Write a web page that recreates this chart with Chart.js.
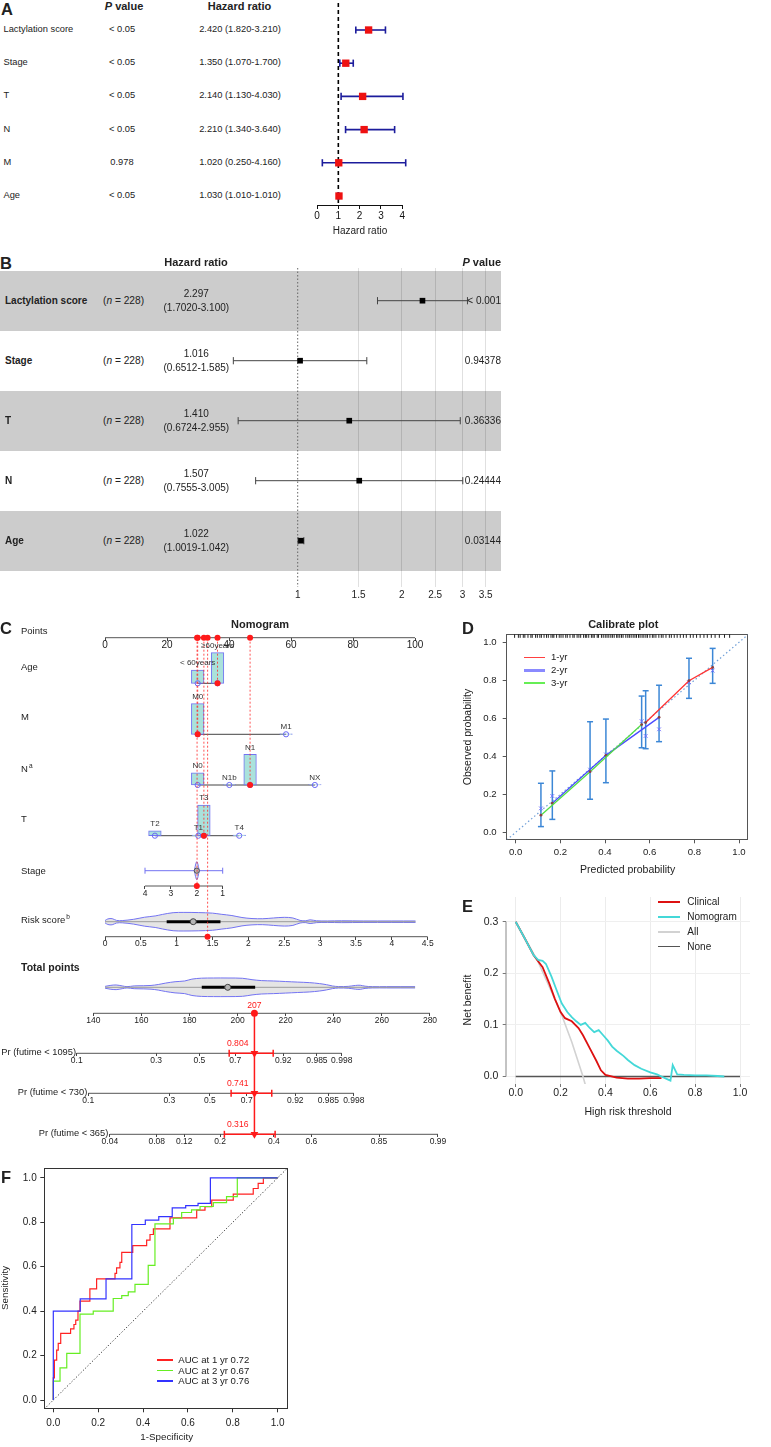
<!DOCTYPE html>
<html><head><meta charset="utf-8"><title>Figure</title>
<script src="https://cdn.jsdelivr.net/npm/chart.js@4.4.1/dist/chart.umd.min.js"></script>
<style>
html,body{margin:0;padding:0;background:#fff}
body{position:relative;width:771px;height:1447px;overflow:hidden;font-family:"Liberation Sans",Arial,sans-serif;color:#222}
.t{position:absolute;white-space:nowrap;line-height:1;z-index:2}
.sup{font-size:6.5px;position:relative;top:-4px;margin-left:1px}
canvas{position:absolute}
.band{position:absolute;background:#cccccc}
.sw{position:absolute;z-index:2}
</style></head><body>
<script>
// ================= DATA =================
// ---- Panel A : univariate forest ----
const aVars=['Lactylation score','Stage','T','N','M','Age'];
const aPval=['< 0.05','< 0.05','< 0.05','< 0.05','0.978','< 0.05'];
const aHR=[2.420,1.350,2.140,2.210,1.020,1.030];
const aLo=[1.820,1.070,1.130,1.340,0.250,1.010];
const aHi=[3.210,1.700,4.030,3.640,4.160,1.010];
const aTicks=[0,1,2,3,4];
// ---- Panel B : multivariate forest ----
const bVars=['Lactylation score','Stage','T','N','Age'];
const bN=[228,228,228,228,228];
const bHR=[2.297,1.016,1.410,1.507,1.022];
const bLo=[1.7020,0.6512,0.6724,0.7555,1.0019];
const bHi=[3.100,1.585,2.955,3.005,1.042];
const bP=['< 0.001','0.94378','0.36336','0.24444','0.03144'];
const bTicks=[1,1.5,2,2.5,3,3.5];
// ---- Panel C : nomogram ----
const ptsTicks=[0,20,40,60,80,100];
const ageCats=['< 60years','≥60years'], agePts=[29.9,36.3], ageFreq=[0.43,1];
const mCats=['M0','M1'], mPts=[29.9,58.4], mFreq=[1,0.01];
const nCats=['N0','N1b','N1','NX'], nPts=[29.9,40.1,46.8,67.7], nFreq=[0.40,0.01,1,0.01];
const tCats=['T2','T1','T3','T4'], tPts=[16.1,30.1,31.9,43.3], tFreq=[0.16,0.01,1,0.01];
const stageTicks=[4,3,2,1];
const stageDensX=[1.9,2,2.1], stageDensW=[0,1,0];
const rsTicks=[0,0.5,1,1.5,2,2.5,3,3.5,4,4.5];
const rsDensX=[0,0.04,0.1,0.16,0.24,0.4,0.55,0.7,0.8,0.95,1.1,1.3,1.5,1.62,1.77,1.91,2.05,2.2,2.35,2.5,2.62,2.72,2.8,2.86,2.95,3.1,3.3,3.6,4.0,4.33];
const rsDensW=[0.12,0.3,0.33,0.14,0.12,0.26,0.48,0.62,0.78,0.97,1,0.98,0.92,0.8,0.66,0.45,0.34,0.32,0.4,0.47,0.4,0.14,0.1,0.2,0.1,0.08,0.1,0.08,0.08,0.08];
const rsBox=[0.86,1.23,1.61];
const tpTicks=[140,160,180,200,220,240,260,280];
const tpDensX=[144.9,147,149.5,152,154,157,161,164,167,170,174,178,181,185,190,196,202,206,210,215,220,225,230,234,237,239.5,242,246,249,251,253,256,262,273.8];
const tpDensW=[0.1,0.2,0.25,0.15,0.07,0.15,0.17,0.2,0.3,0.45,0.6,0.68,0.88,0.98,1,1,0.97,0.82,0.72,0.68,0.62,0.56,0.5,0.4,0.28,0.14,0.08,0.1,0.2,0.22,0.12,0.07,0.07,0.07];
const tpBox=[185.1,195.9,207.3];
const selStage=2, selStagePts=29.7, selRisk=1.43, selRiskPts=33.1, totalPts=207;
const pr1095Lab=['0.1','0.3','0.5','0.7','0.92','0.985','0.998'], pr1095At=[133.1,166.1,184.1,199.0,219.0,233.0,243.3];
const pr730Lab=['0.1','0.3','0.5','0.7','0.92','0.985','0.998'], pr730At=[137.9,171.6,188.5,203.8,224.0,237.7,248.3];
const pr365Lab=['0.04','0.08','0.12','0.2','0.4','0.6','0.85','0.99'], pr365At=[146.9,166.4,177.8,192.7,215.1,230.7,258.8,283.3];
const prVal=[0.804,0.741,0.316], prLo=[196.5,197.3,194.5], prHi=[214.8,214.2,215.6];
// ---- Panel D : calibration ----
const calTicks=[0,0.2,0.4,0.6,0.8,1];
const cal1X=[0.582,0.776,0.882], cal1Y=[0.578,0.798,0.868], cal1Lo=[0.440,0.705,0.784], cal1Hi=[0.745,0.916,0.968];
const cal2X=[0.164,0.404,0.642], cal2Y=[0.153,0.405,0.605], cal2Lo=[0.068,0.261,0.477], cal2Hi=[0.323,0.596,0.774];
const cal3X=[0.113,0.333,0.564], cal3Y=[0.090,0.319,0.567], cal3Lo=[0.030,0.174,0.445], cal3Hi=[0.258,0.582,0.717];
const calBcX=[0.113,0.164,0.333,0.404,0.564,0.582,0.642,0.776,0.882];
const calBcY=[0.126,0.191,0.330,0.410,0.585,0.507,0.542,0.790,0.851];
const calRug=[-0.005,0.012,0.02,0.034,0.041,0.055,0.068,0.074,0.089,0.097,0.108,0.115,0.127,0.138,0.146,0.158,0.166,0.171,0.183,0.195,0.203,0.212,0.224,0.231,0.243,0.256,0.262,0.275,0.283,0.291,0.304,0.312,0.318,0.327,0.339,0.346,0.352,0.365,0.371,0.384,0.392,0.401,0.409,0.417,0.426,0.433,0.441,0.452,0.458,0.466,0.474,0.481,0.493,0.502,0.509,0.517,0.526,0.534,0.541,0.55,0.557,0.566,0.574,0.583,0.59,0.601,0.612,0.619,0.628,0.641,0.652,0.66,0.673,0.688,0.697,0.71,0.723,0.737,0.751,0.764,0.782,0.795,0.81,0.826,0.843,0.858,0.876,0.893,0.912,0.935,0.958];
// ---- Panel E : decision curve ----
const dcaXTicks=[0,0.2,0.4,0.6,0.8,1], dcaYTicks=[0,0.1,0.2,0.3];
const clinX=[0,0.04,0.08,0.12,0.15,0.175,0.2,0.22,0.25,0.28,0.3,0.33,0.36,0.38,0.4,0.45,0.5,0.55,0.6,0.65];
const clinY=[0.3,0.268,0.235,0.212,0.18,0.15,0.125,0.113,0.107,0.094,0.08,0.055,0.03,0.012,0.003,-0.002,-0.004,-0.004,-0.003,-0.003];
const nomoX=[0,0.04,0.08,0.1,0.12,0.135,0.16,0.18,0.205,0.23,0.25,0.27,0.29,0.31,0.33,0.35,0.37,0.39,0.41,0.43,0.45,0.48,0.5,0.53,0.56,0.6,0.63,0.65,0.67,0.69,0.7,0.72,0.75,0.8,0.85,0.9,0.93];
const nomoY=[0.3,0.268,0.235,0.226,0.224,0.218,0.193,0.17,0.142,0.125,0.115,0.107,0.1,0.104,0.094,0.086,0.09,0.08,0.07,0.058,0.05,0.04,0.032,0.022,0.015,0.008,0.004,0.0,-0.004,-0.008,0.022,0.004,0.003,0.002,0.002,0.001,0.0];
const allX=[0,0.1,0.2,0.25,0.3,0.35], allY=[0.3,0.222,0.125,0.067,0.0,-0.077];
const noneX=[0,1], noneY=[0,0];
const dcaNames=['Clinical','Nomogram','All','None'];
// ---- Panel F : time-dependent ROC ----
const rocTicks=[0,0.2,0.4,0.6,0.8,1];
const roc1X=[0,0.005,0.015,0.022,0.033,0.077,0.092,0.10,0.11,0.119,0.163,0.193,0.275,0.282,0.297,0.305,0.354,0.416,0.431,0.446,0.52,0.639,0.676,0.706,0.802,0.891,0.913,0.936,1.0];
const roc1Y=[0,0.10,0.18,0.225,0.255,0.30,0.32,0.34,0.36,0.40,0.445,0.50,0.545,0.57,0.595,0.62,0.665,0.695,0.72,0.745,0.77,0.82,0.855,0.87,0.90,0.927,0.952,0.975,1.0];
const roc2X=[0,0.03,0.06,0.119,0.178,0.267,0.305,0.334,0.364,0.423,0.453,0.535,0.572,0.616,0.654,0.713,0.772,0.82,1.0];
const roc2Y=[0,0.085,0.145,0.21,0.387,0.40,0.457,0.47,0.487,0.521,0.606,0.793,0.818,0.844,0.856,0.871,0.888,0.915,1.0];
const roc3X=[0,0.12,0.235,0.35,0.41,0.47,0.53,0.59,0.645,0.70,1.0];
const roc3Y=[0,0.40,0.455,0.545,0.79,0.81,0.825,0.865,0.875,0.885,1.0];
const rocLab=['AUC at 1 yr 0.72','AUC at 2 yr 0.67','AUC at 3 yr 0.76'];

// ================= HELPERS =================
Chart.defaults.font.family="'Liberation Sans', Arial, sans-serif";
Chart.defaults.color='#222';
function T(html,x,y,o={}){const d=document.createElement('div');d.className='t';d.innerHTML=html;const s=d.style;
  s.left=x+'px';s.top=y+'px';s.fontSize=(o.s||10)+'px';if(o.b)s.fontWeight='bold';if(o.c)s.color=o.c;
  const ax=o.a==='c'?'-50%':o.a==='r'?'-100%':'0';s.transform='translate('+ax+',-50%)'+(o.rot?' rotate('+o.rot+'deg)':'');
  document.body.appendChild(d);return d;}
function SW(x1,x2,y,col,w){const d=document.createElement('div');d.className='sw';d.style.left=x1+'px';d.style.width=(x2-x1)+'px';
  d.style.top=(y-w/2)+'px';d.style.height=w+'px';d.style.background=col;document.body.appendChild(d);}
function band(x,y,w,h){const d=document.createElement('div');d.className='band';Object.assign(d.style,{left:x+'px',top:y+'px',width:w+'px',height:h+'px'});document.body.appendChild(d);}
function hLin(p0,v0,p1,v1,a0,a1){const k=(v1-v0)/(p1-p0);const va=v0+(a0-p0)*k,vb=v0+(a1-p0)*k;return va<vb?{min:va,max:vb,reverse:false}:{min:vb,max:va,reverse:true};}
function vLin(p0,v0,p1,v1,top,bot){const k=(v1-v0)/(p1-p0);const vt=v0+(top-p0)*k,vb=v0+(bot-p0)*k;return vt>vb?{min:vb,max:vt,reverse:false}:{min:vt,max:vb,reverse:true};}
function axis(o){
  const c={type:o.type||'linear',axis:o.axis,position:o.pos,min:o.map.min,max:o.map.max,reverse:!!o.map.reverse,offset:false,
    display:o.display===undefined?true:o.display,
    ticks:{display:!o.noLabels,autoSkip:false,maxRotation:0,minRotation:0,font:{size:o.font||10,lineHeight:1},color:o.color||'#222',padding:o.pad||0,
      callback:(v,i)=>o.labels?o.labels[i]:(o.fmt?o.fmt(v):String(v))},
    grid:{offset:false,display:true,drawOnChartArea:!!o.gridColor,color:o.gridColor||'rgba(0,0,0,0)',drawTicks:!!o.tl,tickLength:o.tl||0,tickColor:o.tc||'#333',tickWidth:1,lineWidth:1},
    border:{display:!!o.border,color:o.border||'#000',width:1}};
  if(o.vals)c.afterBuildTicks=s=>{s.ticks=o.vals.map(v=>({value:v}));};
  return c;}
function L(data,st){return Object.assign({type:'line',data,pointRadius:0,borderWidth:1,fill:false,clip:false,tension:0},st||{});}
function P(data,st){return Object.assign({type:'line',data,showLine:false,clip:false,pointBorderWidth:0},st||{});}
function place(box,area,cfg){
  const c=document.createElement('canvas');c.width=box.w;c.height=box.h;
  Object.assign(c.style,{left:box.x+'px',top:box.y+'px',width:box.w+'px',height:box.h+'px'});
  document.body.appendChild(c);
  cfg.data.datasets.forEach((d,i)=>{if(d.order===undefined)d.order=-i;});
  const o=cfg.options=cfg.options||{};
  const m={left:area.l-box.x,top:area.t-box.y,right:box.x+box.w-area.r,bottom:box.y+box.h-area.b};
  const pad=Object.assign({},m);
  Object.values(o.scales).forEach(s=>{
    const pos=s.position;
    if(typeof pos==='string'&&s.display!==false&&s.ticks&&s.ticks.display){
      const size=m[pos];pad[pos]=0;
      s.afterFit=sc=>{if(sc.isHorizontal())sc.height=size;else sc.width=size;};
    } else s.afterFit=sc=>{if(sc.isHorizontal())sc.height=0;else sc.width=0;};
  });
  Object.assign(o,{responsive:false,animation:false,devicePixelRatio:1,events:[],layout:{autoPadding:false,padding:pad}});
  o.plugins=Object.assign({legend:{display:false},title:{display:false},tooltip:{enabled:false}},o.plugins||{});
  return new Chart(c.getContext('2d'),cfg);}
const f1=v=>v.toFixed(1);

// ================= PANEL LETTERS =================
T('A',1,9,{s:16.5,b:1});T('B',0,262.5,{s:16.5,b:1});T('C',0,628,{s:16.5,b:1});
T('D',462,628,{s:16.5,b:1});T('E',462,906,{s:16.5,b:1});T('F',1,1177,{s:16.5,b:1});

// ================= PANEL A =================
const aRowY0=30,aRowStep=33.2;
T('<i>P</i> value',124,6,{s:11,b:1,a:'c'});T('Hazard ratio',239.5,6,{s:11,b:1,a:'c'});
aVars.forEach((v,i)=>{const y=aRowY0+i*aRowStep;T(v,3.5,y,{s:9.3});T(aPval[i],122,y,{s:9.3,a:'c'});
  T(aHR[i].toFixed(3)+' ('+aLo[i].toFixed(3)+'-'+aHi[i].toFixed(3)+')',240,y,{s:9.3,a:'c'});});
T('Hazard ratio',360,231,{s:10,a:'c'});
(function(){
  const box={x:290,y:0,w:135,h:240},area={l:317,t:3,r:402.3,b:205};
  const xm=hLin(317,0,402.3,4,area.l,area.r), ym=vLin(aRowY0,0,aRowY0+aRowStep,1,area.t,area.b);
  const ds=[L([{x:1,y:ym.min},{x:1,y:ym.max}],{borderColor:'#000',borderWidth:1.6,borderDash:[4,3]})];
  aVars.forEach((v,i)=>ds.push(L([{x:aLo[i],y:i},{x:aHi[i],y:i}],{borderColor:'#1c1c9c',borderWidth:1.6,pointStyle:'line',pointRotation:90,pointRadius:3.6,pointBorderColor:'#1c1c9c',pointBorderWidth:1.6})));
  ds.push(P(aHR.map((h,i)=>({x:h,y:i})),{pointStyle:'rect',pointRadius:5.2,pointBackgroundColor:'#ee1111'}));
  place(box,area,{type:'line',data:{datasets:ds},options:{scales:{
    x:axis({axis:'x',pos:'bottom',map:xm,vals:aTicks,font:10,pad:2,tl:4,tc:'#111',border:'#111',color:'#111'}),
    y:axis({axis:'y',pos:'left',map:ym,display:false})}}});
})();

// ================= PANEL B =================
const bRowY0=300.7,bRowStep=60;
bVars.forEach((v,i)=>{if(i%2===0)band(0,bRowY0-30+i*bRowStep,501,bRowStep);});
T('Hazard ratio',196,262,{s:11,b:1,a:'c'});T('<i>P</i> value',501,262,{s:11,b:1,a:'r'});
bVars.forEach((v,i)=>{const y=bRowY0+i*bRowStep;T(v,5,y,{s:10,b:1});T('(<i>n</i> = '+bN[i]+')',103,y,{s:10.2});
  T(bHR[i].toFixed(3),196.3,y-7,{s:10,a:'c'});T('('+bLo[i].toFixed(4)+'-'+bHi[i].toFixed(3)+')',196.3,y+7,{s:10,a:'c'});
  T(bP[i],501,y,{s:10,a:'r'});});
(function(){
  const box={x:200,y:265,w:310,h:345},area={l:200,t:268,r:501,b:587};
  const k=(401.7-297.7)/Math.log(2);
  const xm={min:Math.exp((area.l-297.7)/k),max:Math.exp((area.r-297.7)/k)};
  const ym=vLin(bRowY0,0,bRowY0+bRowStep,1,area.t,area.b);
  const ds=[L([{x:1,y:ym.min},{x:1,y:ym.max}],{borderColor:'#666',borderWidth:1,borderDash:[1.5,2]})];
  bVars.forEach((v,i)=>ds.push(L([{x:bLo[i],y:i},{x:bHi[i],y:i}],{borderColor:'#444',borderWidth:1,pointStyle:'line',pointRotation:90,pointRadius:3.6,pointBorderColor:'#444',pointBorderWidth:1})));
  ds.push(P(bHR.map((h,i)=>({x:h,y:i})),{pointStyle:'rect',pointRadius:4,pointBackgroundColor:'#000'}));
  place(box,area,{type:'line',data:{datasets:ds},options:{scales:{
    x:axis({type:'logarithmic',axis:'x',pos:'bottom',map:xm,vals:bTicks,font:10,pad:3,color:'#222',
      gridColor:c=>(c.tick&&c.tick.value===1)?'rgba(0,0,0,0)':'rgba(0,0,0,0.12)'}),
    y:axis({axis:'y',pos:'left',map:ym,display:false})}}});
})();

// ================= PANEL C : NOMOGRAM =================
const NY={pts:637.7,age:683.3,m:734.3,n:785,t:835.7,stLine:870.7,stAxis:886,rsV:921.7,rsAxis:936.7,tpV:987.3,tpAxis:1013.3,p1095:1053.3,p730:1093.3,p365:1134.3};
const BAR_H=30.6,VIO_H=9.3,STG_H=9;
const BLUE='#7373f2',FILLC='#aae2db',RED='#ff1a1a',VFILL='#e5e5e5';
T('Nomogram',260,624,{s:11,b:1,a:'c'});
T('Points',21,631,{s:9.5});T('Age',21,667.3,{s:9.5});T('M',21,717.3,{s:9.5});T('N<span class="sup">a</span>',21,769,{s:9.5});
T('T',21,819.3,{s:9.5});T('Stage',21,870.7,{s:9.5});T('Risk score<span class="sup">b</span>',21,920,{s:9.5});
T('Total points',21,966.7,{s:10.5,b:1});
T('Pr (futime &lt; 1095)',76,NY.p1095,{s:9.3,a:'r'});T('Pr (futime &lt; 730)',87.3,NY.p730,{s:9.3,a:'r'});T('Pr (futime &lt; 365)',108.3,NY.p365,{s:9.3,a:'r'});
const catRows=[{cats:ageCats,pts:agePts,freq:ageFreq,y:NY.age,sel:1},{cats:mCats,pts:mPts,freq:mFreq,y:NY.m,sel:0},
  {cats:nCats,pts:nPts,freq:nFreq,y:NY.n,sel:2},{cats:tCats,pts:tPts,freq:tFreq,y:NY.t,sel:2}];
const prRows=[{val:prVal[0],y:NY.p1095},{val:prVal[1],y:NY.p730},{val:prVal[2],y:NY.p365}];
(function(){
  const box={x:0,y:600,w:460,h:560},area={l:0,t:600,r:460,b:1160};
  const on=ax=>({xAxisID:ax,yAxisID:'y'});
  const ptsMap=hLin(105,0,415,100,area.l,area.r), stgMap=hLin(145,4,222.7,1,area.l,area.r),
        rsMap=hLin(105,0,427.7,4.5,area.l,area.r), tpMap=hLin(93.3,140,430,280,area.l,area.r);
  const ds=[];
  const violin=(ax,xs,ws,cy,H,col)=>{
    ds.push(L(xs.map((v,j)=>({x:v,y:cy-ws[j]*H})),{...on(ax),borderColor:BLUE,tension:0.35,fill:'+1',backgroundColor:col}));
    ds.push(L(xs.map((v,j)=>({x:v,y:cy+ws[j]*H})),{...on(ax),borderColor:BLUE,tension:0.35}));};
  ds.push(L([{x:ptsTicks[0],y:NY.pts},{x:ptsTicks[ptsTicks.length-1],y:NY.pts}],{...on('pts'),borderColor:'#555'}));
  ds.push(L([{x:stageTicks[0],y:NY.stAxis},{x:stageTicks[stageTicks.length-1],y:NY.stAxis}],{...on('stg'),borderColor:'#555'}));
  ds.push(L([{x:rsTicks[0],y:NY.rsAxis},{x:rsTicks[rsTicks.length-1],y:NY.rsAxis}],{...on('rs'),borderColor:'#555'}));
  ds.push(L([{x:tpTicks[0],y:NY.tpAxis},{x:tpTicks[tpTicks.length-1],y:NY.tpAxis}],{...on('tp'),borderColor:'#555'}));
  [[pr1095At,NY.p1095],[pr730At,NY.p730],[pr365At,NY.p365]].forEach(([at,y])=>ds.push(L([{x:at[0],y},{x:at[at.length-1],y}],{...on('tp'),borderColor:'#555'})));
  catRows.forEach(r=>{
    ds.push(L([{x:Math.min(...r.pts),y:r.y},{x:Math.max(...r.pts),y:r.y}],{...on('pts'),borderColor:'#444'}));
    ds.push({type:'bar',...on('pts'),data:r.pts.map((p,j)=>({x:p,y:[r.y,r.y-Math.max(r.freq[j]*BAR_H,0.5)]})),barThickness:12.6,grouped:false,
      backgroundColor:FILLC,borderColor:BLUE,borderWidth:1,borderSkipped:false,clip:false});
    ds.push(P(r.pts.map(p=>({x:p,y:r.y})),{...on('pts'),pointRadius:2.6,pointBackgroundColor:'rgba(255,255,255,0)',pointBorderColor:'#6a6af5',pointBorderWidth:1}));
  });
  ds.push(L([{x:stageTicks[0],y:NY.stLine},{x:stageTicks[stageTicks.length-1],y:NY.stLine}],{...on('stg'),borderColor:BLUE,pointStyle:'line',pointRotation:90,pointRadius:3,pointBorderColor:BLUE,pointBorderWidth:1}));
  violin('stg',stageDensX,stageDensW,NY.stLine,STG_H,VFILL);
  ds.push(P([{x:selStage,y:NY.stLine}],{...on('stg'),pointRadius:2.6,pointBackgroundColor:'#b5b5b5',pointBorderColor:'#555',pointBorderWidth:1}));
  violin('rs',rsDensX,rsDensW,NY.rsV,VIO_H,VFILL);
  ds.push(L([{x:rsDensX[0],y:NY.rsV},{x:rsDensX[rsDensX.length-1],y:NY.rsV}],{...on('rs'),borderColor:'#9a9a9a'}));
  ds.push(L([{x:rsBox[0],y:NY.rsV},{x:rsBox[2],y:NY.rsV}],{...on('rs'),borderColor:'#000',borderWidth:3}));
  ds.push(P([{x:rsBox[1],y:NY.rsV}],{...on('rs'),pointRadius:3,pointBackgroundColor:'#b5b5b5',pointBorderColor:'#444',pointBorderWidth:1}));
  violin('tp',tpDensX,tpDensW,NY.tpV,VIO_H,VFILL);
  ds.push(L([{x:tpDensX[0],y:NY.tpV},{x:tpDensX[tpDensX.length-1],y:NY.tpV}],{...on('tp'),borderColor:'#9a9a9a'}));
  ds.push(L([{x:tpBox[0],y:NY.tpV},{x:tpBox[2],y:NY.tpV}],{...on('tp'),borderColor:'#000',borderWidth:3}));
  ds.push(P([{x:tpBox[1],y:NY.tpV}],{...on('tp'),pointRadius:3,pointBackgroundColor:'#b5b5b5',pointBorderColor:'#444',pointBorderWidth:1}));
  const selPts=[...catRows.map(r=>r.pts[r.sel]),selStagePts,selRiskPts];
  const selY=[...catRows.map(r=>r.y),NY.stAxis,NY.rsAxis];
  selPts.forEach((p,i)=>ds.push(L([{x:p,y:NY.pts},{x:p,y:selY[i]}],{...on('pts'),borderColor:'rgba(255,40,40,0.8)',borderDash:[2,2]})));
  const redDot={pointRadius:3,pointBackgroundColor:RED,pointBorderWidth:0};
  ds.push(P(selPts.map(p=>({x:p,y:NY.pts})),{...on('pts'),...redDot}));
  ds.push(P(catRows.map(r=>({x:r.pts[r.sel],y:r.y})),{...on('pts'),...redDot}));
  ds.push(P([{x:selStage,y:NY.stAxis}],{...on('stg'),...redDot}));
  ds.push(P([{x:selRisk,y:NY.rsAxis}],{...on('rs'),...redDot}));
  ds.push(L([{x:totalPts,y:NY.tpAxis},{x:totalPts,y:NY.p365}],{...on('tp'),borderColor:RED,borderWidth:1.5}));
  ds.push(P([{x:totalPts,y:NY.tpAxis}],{...on('tp'),...redDot,pointRadius:3.5}));
  prRows.forEach((r,i)=>{
    ds.push(L([{x:prLo[i],y:r.y},{x:prHi[i],y:r.y}],{...on('tp'),borderColor:RED,borderWidth:1.5,pointStyle:'line',pointRotation:90,pointRadius:3.5,pointBorderColor:RED,pointBorderWidth:1.5}));
    ds.push(P([{x:totalPts,y:r.y}],{...on('tp'),pointStyle:'triangle',pointRotation:180,pointRadius:4.5,pointBackgroundColor:RED}));
  });
  const nomoText={id:'nomoText',afterDatasetsDraw(ch){
    const c=ch.ctx,sx=ch.scales.pts,sy=ch.scales.y,st=ch.scales.tp;
    c.save();c.font='8px "Liberation Sans", Arial';c.textAlign='center';c.textBaseline='middle';c.fillStyle='#333';
    catRows.forEach(r=>r.cats.forEach((lab,j)=>{const top=r.y-Math.max(r.freq[j]*BAR_H,0.5);c.fillText(lab,sx.getPixelForValue(r.pts[j]),sy.getPixelForValue(top-7));}));
    c.fillStyle=RED;c.font='8.6px "Liberation Sans", Arial';
    c.fillText(String(totalPts),st.getPixelForValue(totalPts),sy.getPixelForValue(NY.tpAxis-7.5));
    c.textAlign='right';
    prRows.forEach(r=>c.fillText(r.val.toFixed(3),st.getPixelForValue(totalPts)-6,sy.getPixelForValue(r.y-10)));
    c.restore();}};
  const nx=(map,y,vals,labels,font,pad)=>axis({axis:'x',pos:{y},map,vals,labels,font,pad,tl:3,tc:'#444'});
  place(box,area,{type:'line',data:{datasets:ds},plugins:[nomoText],options:{scales:{
    y:axis({axis:'y',pos:'left',map:{min:area.t,max:area.b,reverse:true},display:false}),
    pts:nx(ptsMap,NY.pts,ptsTicks,null,10,0),
    stg:nx(stgMap,NY.stAxis,stageTicks,null,8.5,0.5),
    rs:nx(rsMap,NY.rsAxis,rsTicks,null,8.5,0),
    tp:nx(tpMap,NY.tpAxis,tpTicks,null,8.5,0),
    p1095:nx(tpMap,NY.p1095,pr1095At,pr1095Lab,8.5,0),
    p730:nx(tpMap,NY.p730,pr730At,pr730Lab,8.5,0),
    p365:nx(tpMap,NY.p365,pr365At,pr365Lab,8.5,0)}}});
})();

// ================= PANEL D : CALIBRATION =================
T('Calibrate plot',623.3,624,{s:11,b:1,a:'c'});
T('Observed probability',466.7,737,{s:10.5,a:'c',rot:-90});
T('Predicted probability',627.7,869.3,{s:10.5,a:'c'});
const calCols=['#ff3333','#4b4bff','#55dd44'];
SW(524.3,545,657.3,'#ff4040',1.2);SW(524.3,545,670,'#8a8aff',3);SW(524.3,545,682.7,'#66ee55',2);
['1-yr','2-yr','3-yr'].forEach((s,i)=>T(s,551,657.3+i*12.7,{s:9.6}));
(function(){
  const box={x:460,y:612,w:311,h:258},area={l:506.7,t:634.3,r:747.7,b:839.3};
  const xm=hLin(515.7,0,739,1,area.l,area.r), ym=vLin(832.3,0,642.3,1,area.t,area.b);
  const ds=[L([{x:-0.04,y:-0.04},{x:1.04,y:1.04}],{borderColor:'#6f9fd8',borderWidth:1.2,borderDash:[1.5,2.5],clip:true})];
  const sets=[[cal1X,cal1Y,cal1Lo,cal1Hi],[cal2X,cal2Y,cal2Lo,cal2Hi],[cal3X,cal3Y,cal3Lo,cal3Hi]];
  sets.forEach(([X,Y,Lo,Hi])=>X.forEach((x,j)=>ds.push(L([{x,y:Lo[j]},{x,y:Hi[j]}],{borderColor:'#3c87d6',borderWidth:1.5,pointStyle:'line',pointRadius:3,pointBorderColor:'#3c87d6',pointBorderWidth:1.5}))));
  ds.push(P(calBcX.map((x,j)=>({x,y:calBcY[j]})),{pointStyle:'crossRot',pointRadius:2.6,pointBorderColor:'#7070ff',pointBorderWidth:1}));
  sets.forEach(([X,Y],s)=>ds.push(L(X.map((x,j)=>({x,y:Y[j]})),{borderColor:calCols[s],borderWidth:1.3,pointRadius:1.4,pointBackgroundColor:'#8a4040',pointBorderWidth:0})));
  ds.push(P(calRug.map(v=>({x:v,y:1.033})),{pointStyle:'line',pointRotation:90,pointRadius:1.8,pointBorderColor:'#222',pointBorderWidth:1}));
  place(box,area,{type:'line',data:{datasets:ds},options:{scales:{
    x:axis({axis:'x',pos:'bottom',map:xm,vals:calTicks,fmt:f1,font:9.6,pad:4.6,tl:4,tc:'#555',border:'#555'}),
    y:axis({axis:'y',pos:'left',map:ym,vals:calTicks,fmt:f1,font:9.6,pad:6,tl:4,tc:'#555',border:'#555'}),
    x2:axis({axis:'x',pos:'top',map:xm,vals:calTicks,noLabels:true,border:'#555'}),
    y2:axis({axis:'y',pos:'right',map:ym,vals:calTicks,noLabels:true,border:'#555'})}}});
})();

// ================= PANEL E : DCA =================
const dcaCols=['#dd1111','#44d8d8','#d2d2d2','#555555'];
const legY=[902.3,917.3,931.7,946.7];
dcaNames.forEach((n,i)=>{SW(657.7,680,legY[i],dcaCols[i],i===3?1.5:2);T(n,687.3,legY[i],{s:10});});
T('Net benefit',466.7,1000,{s:10.5,a:'c',rot:-90});
T('High risk threshold',628,1111,{s:10.5,a:'c'});
(function(){
  const box={x:460,y:885,w:311,h:230},area={l:506,t:897,r:750,b:1084};
  const xm=hLin(515.7,0,740,1,area.l,area.r), ym=vLin(1076.5,0,921.7,0.3,area.t,area.b);
  const ds=[];
  ds.push(L([{x:xm.min,y:dcaYTicks[0]},{x:xm.min,y:dcaYTicks[dcaYTicks.length-1]}],{borderColor:'#888'}));
  ds.push(L(noneX.map((x,j)=>({x,y:noneY[j]})),{borderColor:dcaCols[3],borderWidth:1.3,clip:true}));
  ds.push(L(allX.map((x,j)=>({x,y:allY[j]})),{borderColor:dcaCols[2],borderWidth:1.6,clip:true}));
  ds.push(L(clinX.map((x,j)=>({x,y:clinY[j]})),{borderColor:dcaCols[0],borderWidth:1.8,clip:true}));
  ds.push(L(nomoX.map((x,j)=>({x,y:nomoY[j]})),{borderColor:dcaCols[1],borderWidth:1.8,clip:true}));
  place(box,area,{type:'line',data:{datasets:ds},options:{scales:{
    x:axis({axis:'x',pos:'bottom',map:xm,vals:dcaXTicks,fmt:f1,font:10.5,pad:1,tl:3,tc:'#777',gridColor:'#ececec'}),
    y:axis({axis:'y',pos:'left',map:ym,vals:dcaYTicks,fmt:f1,font:10.5,pad:4.4,tl:3.3,tc:'#777',gridColor:'#efefef'})}}});
})();

// ================= PANEL F : ROC =================
const rocCols=['#ff2222','#66ee22','#3333ff'];
T('Sensitivity',5,1288.3,{s:9.8,a:'c',rot:-90});
T('1-Specificity',166.7,1436.7,{s:9.8,a:'c'});
rocLab.forEach((s,i)=>{const y=1360+i*10.5;SW(156.7,173.3,y,rocCols[i],1.2);T(s,178.3,y,{s:9.6});});
(function(){
  const box={x:0,y:1160,w:300,h:287},area={l:44.3,t:1166.7,r:287.3,b:1408.3};
  const xm=hLin(53.3,0,277.7,1,area.l,area.r), ym=vLin(1400,0,1176,1,area.t,area.b);
  const ds=[L([{x:-0.04,y:-0.04},{x:1.04,y:1.04}],{borderColor:'#333',borderWidth:1,borderDash:[1.2,2],clip:true})];
  [[roc1X,roc1Y],[roc2X,roc2Y],[roc3X,roc3Y]].forEach(([X,Y],i)=>ds.push(L(X.map((x,j)=>({x,y:Y[j]})),{borderColor:rocCols[i],borderWidth:1.2,stepped:'after',clip:true})));
  place(box,area,{type:'line',data:{datasets:ds},options:{scales:{
    x:axis({axis:'x',pos:'bottom',map:xm,vals:rocTicks,fmt:f1,font:10,pad:6,tl:4,tc:'#333',border:'#333'}),
    y:axis({axis:'y',pos:'left',map:ym,vals:rocTicks,fmt:f1,font:10,pad:3.6,tl:4,tc:'#333',border:'#333'}),
    x2:axis({axis:'x',pos:'top',map:xm,vals:rocTicks,noLabels:true,border:'#333'}),
    y2:axis({axis:'y',pos:'right',map:ym,vals:rocTicks,noLabels:true,border:'#333'})}}});
})();
</script>
</body></html>
